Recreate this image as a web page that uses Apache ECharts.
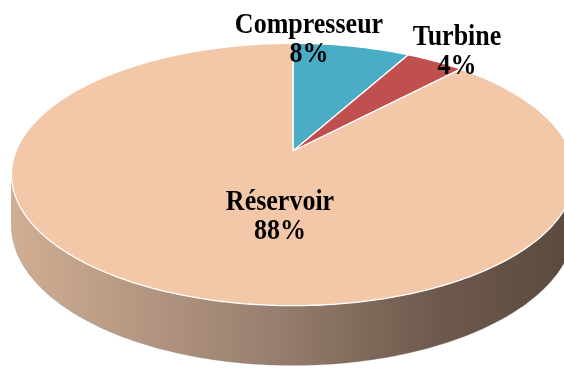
<!DOCTYPE html>
<html>
<head>
<meta charset="utf-8">
<script src="https://cdn.jsdelivr.net/npm/echarts@6/dist/echarts.min.js"></script>
<style>
  html, body { margin: 0; padding: 0; background: #ffffff; }
  #chart { width: 564px; height: 368px; }
</style>
</head>
<body>
<div id="chart"></div>
<script>
// Slices, clockwise from 12 o'clock
const categories = ['Compresseur', 'Turbine', 'Réservoir'];
const shares = [8, 4, 88];

// Look of each slice: top face colour and the shading of its rim
const topColors = ['#4BACC6', '#C0504D', '#F3C8A9'];
const rimStops = [
  [[0, '#3C8AA0'], [1, '#2A6272']],
  [[0, '#9A403E'], [1, '#6E2E2C']],
  [[0, '#D0AE93'], [0.45, '#9A8070'], [0.75, '#6E5A4D'], [1, '#5B493D']]
];
// Label anchors (centre of each two-line label)
const labelAnchors = [[309, 40], [457, 52], [280, 217]];

// Tilted disc with perspective: apex, radii, perspective factor, thickness
const CX = 293, CY = 151, RA = 277, RB = 127, PERSP = 0.179, DEPTH = 49;
const RIM_FROM = Math.acos(-PERSP) * 180 / Math.PI;   // right silhouette
const RIM_TO = 360 - RIM_FROM;                          // left silhouette

function project(deg, drop) {
  const t = deg * Math.PI / 180;
  const u = Math.sin(t), v = Math.cos(t), w = 1 + PERSP * v;
  return [CX + RA * u / w, CY - RB * v / w + drop / w];
}
function arcPoints(a0, a1, drop) {
  const n = Math.max(2, Math.ceil(Math.abs(a1 - a0)));
  const pts = [];
  for (let i = 0; i <= n; i++) pts.push(project(a0 + (a1 - a0) * i / n, drop));
  return pts;
}

const total = shares.reduce((s, v) => s + v, 0);
const startAngles = [];
shares.reduce((acc, v, i) => { startAngles[i] = acc / total * 360; return acc + v; }, 0);

function renderItem(params, api) {
  const i = params.dataIndex;
  const value = api.value(0);
  const start = startAngles[i];
  const end = start + value / total * 360;
  const children = [];

  // visible part of the rim
  const s0 = Math.max(start, RIM_FROM), s1 = Math.min(end, RIM_TO);
  if (s1 > s0) {
    const top = arcPoints(s0, s1, 0);
    const bottom = arcPoints(s0, s1, DEPTH).reverse();
    const xs = top.map(p => p[0]);
    const grad = new echarts.graphic.LinearGradient(
      Math.min(...xs), 0, Math.max(...xs), 0,
      rimStops[i].map(s => ({ offset: s[0], color: s[1] })), true);
    children.push({
      type: 'polygon', z2: 1,
      shape: { points: top.concat(bottom) },
      style: { fill: grad, stroke: 'rgba(120,120,120,0.35)', lineWidth: 1 }
    });
  }

  // top face
  children.push({
    type: 'polygon', z2: 5,
    shape: { points: [[CX, CY]].concat(arcPoints(start, end, 0)) },
    style: { fill: topColors[i], stroke: '#ffffff', lineWidth: 1.3, lineJoin: 'round' }
  });

  // label, slightly tall type
  children.push({
    type: 'text', z2: 10,
    x: labelAnchors[i][0], y: labelAnchors[i][1],
    scaleY: 1.12,
    style: {
      text: categories[i] + '\n' + value + '%',
      fill: '#000000',
      font: 'bold 26px "Liberation Serif", "DejaVu Serif", serif',
      lineHeight: 26,
      align: 'center',
      verticalAlign: 'middle'
    }
  });
  return { type: 'group', children };
}

const chart = echarts.init(document.getElementById('chart'), null, { renderer: 'canvas' });
chart.setOption({
  animation: false,
  backgroundColor: '#ffffff',
  series: [{
    type: 'custom',
    coordinateSystem: 'none',
    renderItem: renderItem,
    data: shares.map((v, i) => ({ name: categories[i], value: [v] }))
  }]
});
</script>
</body>
</html>
